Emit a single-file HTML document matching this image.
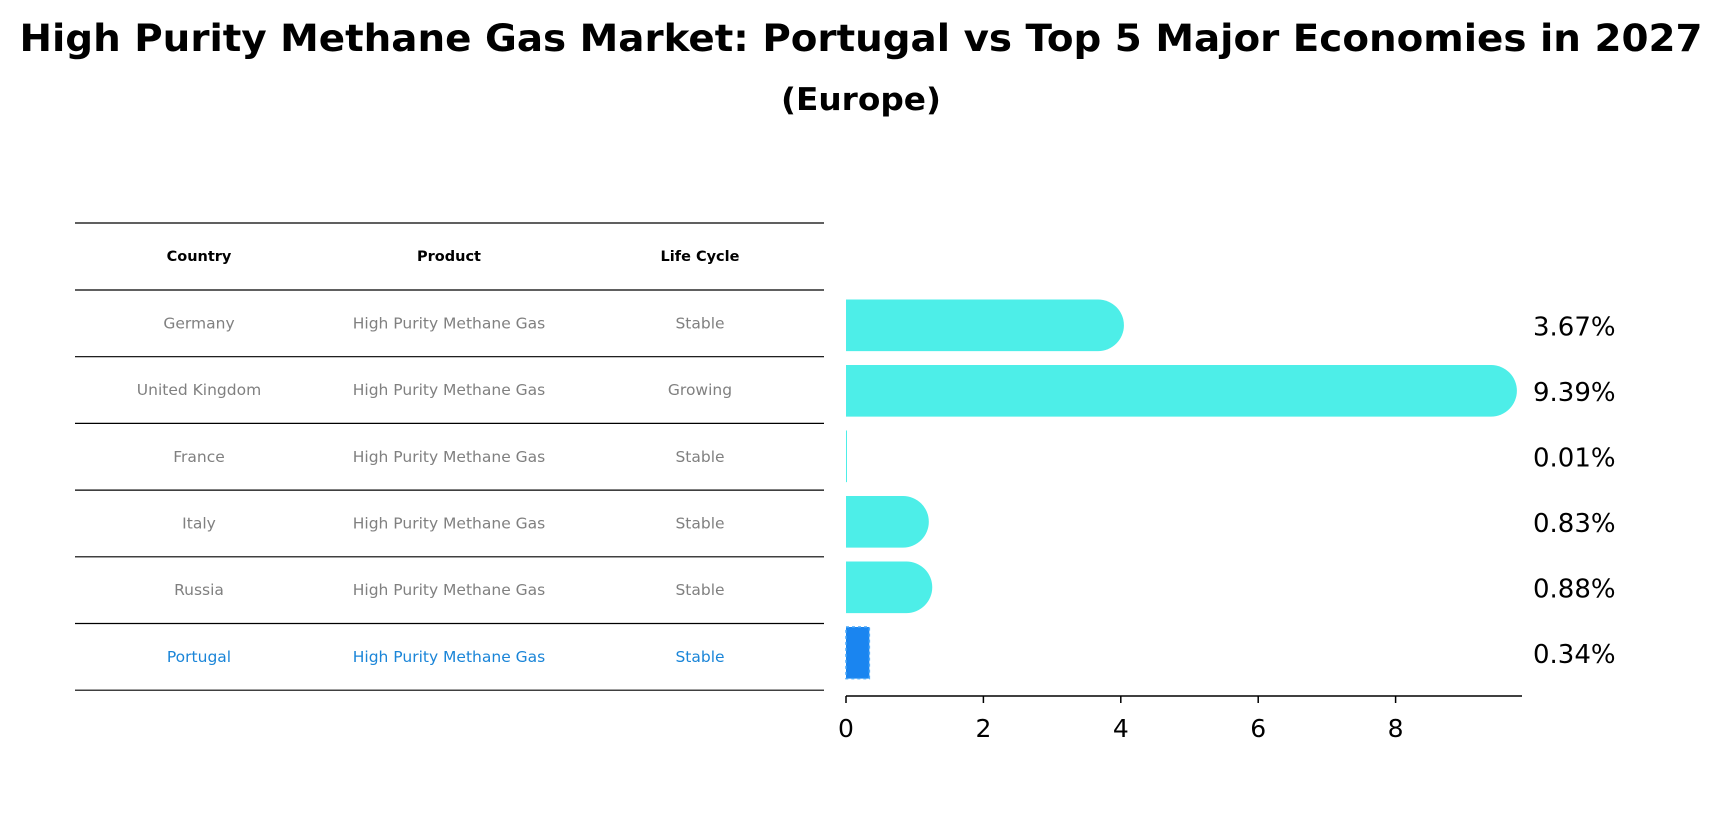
<!DOCTYPE html>
<html><head><meta charset="utf-8"><style>body{margin:0;background:#fff}svg{display:block;font-family:"DejaVu Sans","Liberation Sans",sans-serif}</style></head>
<body>
<svg id="c" width="1723" height="823">
<text x="861" y="51" text-anchor="middle" font-size="37" font-weight="bold" textLength="1683" lengthAdjust="spacingAndGlyphs">High Purity Methane Gas Market: Portugal vs Top 5 Major Economies in 2027</text>
<text x="861" y="110" text-anchor="middle" font-size="31" font-weight="bold" textLength="160" lengthAdjust="spacingAndGlyphs">(Europe)</text>
<g id="tbl"></g>
<g id="bars"></g>
<g id="axis"></g>
</svg>
<script>
const countries=["Germany","United Kingdom","France","Italy","Russia","Portugal"];
const products=["High Purity Methane Gas","High Purity Methane Gas","High Purity Methane Gas","High Purity Methane Gas","High Purity Methane Gas","High Purity Methane Gas"];
const lifecycle=["Stable","Growing","Stable","Stable","Stable","Stable"];
const values=[3.67,9.39,0.01,0.83,0.88,0.34];
const ticks=[0,2,4,6,8];
const NS="http://www.w3.org/2000/svg";
function mk(p,t,a,txt){const e=document.createElementNS(NS,t);for(const k in a)e.setAttribute(k,a[k]);if(txt!==undefined)e.textContent=txt;p.appendChild(e);return e;}
const x0=846,ux=68.7;const X=v=>x0+v*ux;
const rowTop=290,rowH=66.7,barH=51.6;
const TY=i=>rowTop+rowH*i+rowH/2;
const BY=i=>325.3+65.5*i;
const tbl=document.getElementById('tbl'),bars=document.getElementById('bars'),axis=document.getElementById('axis');
const cols=[199,449,700];
for(let i=0;i<=7;i++){const y=223+(i===0?0:67+(i-1)*66.7);
 const l=mk(tbl,'line',{x1:75,x2:824,y1:y,y2:y,stroke:'#000','stroke-width':1.2});
 }
["Country","Product","Life Cycle"].forEach((h,j)=>{const t=mk(tbl,'text',{x:cols[j],y:261,'text-anchor':'middle','font-size':14.5,'font-weight':'bold'},h);
 });
countries.forEach((c,i)=>{const col=i===5?'#1a85d8':'#808080';
 [c,products[i],lifecycle[i]].forEach((s,j)=>{const t=mk(tbl,'text',{x:cols[j],y:TY(i)+5,'text-anchor':'middle','font-size':15.5,fill:col},s);
  });
 const v=values[i],y=BY(i)-barH/2,w=X(v)-x0;
 if(i===5){const r=mk(bars,'rect',{x:x0,y:y,width:w,height:barH,fill:'#1a85f0',stroke:'#4aa8f8','stroke-dasharray':'3,3','stroke-width':1.5});
  }
 else{const rr=v>0.5?barH/2:0;
  const p=mk(bars,'path',{fill:'#4deee8',d:rr?`M${x0},${y}H${x0+w}A${rr},${rr} 0 0 1 ${x0+w},${y+barH}H${x0}Z`:`M${x0},${y}h${Math.max(w,1)}v${barH}h${-Math.max(w,1)}Z`});
  }
 const t=mk(bars,'text',{x:1533,y:BY(i)+10,'font-size':26},v.toFixed(2)+'%');
 
});
const al=mk(axis,'line',{x1:x0,x2:1522,y1:696,y2:696,stroke:'#000','stroke-width':1.5});

ticks.forEach(v=>{const l=mk(axis,'line',{x1:X(v),x2:X(v),y1:696,y2:703,stroke:'#000','stroke-width':1.5});
 
 const t=mk(axis,'text',{x:X(v),y:737,'text-anchor':'middle','font-size':25},String(v));
 });
</script>
</body></html>
